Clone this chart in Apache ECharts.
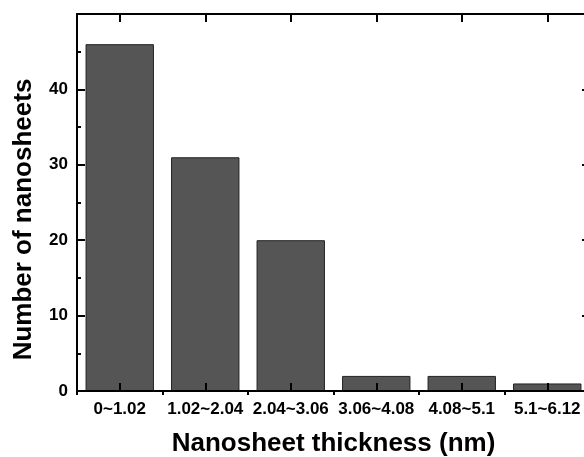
<!DOCTYPE html>
<html>
<head>
<meta charset="utf-8">
<script src="https://cdn.jsdelivr.net/npm/echarts@6/dist/echarts.min.js"></script>
<style>
html,body{margin:0;padding:0;background:#fff;}
#chart{width:584px;height:457px;}
</style>
</head>
<body>
<div id="chart"></div>
<script>
var categories = ['0~1.02', '1.02~2.04', '2.04~3.06', '3.06~4.08', '4.08~5.1', '5.1~6.12'];
var counts = [46, 31, 20, 2, 2, 1];
var yTicks = [0, 10, 20, 30, 40];

var FONT = '"Liberation Sans", Arial, sans-serif';
var lineStyle = { color: '#000', width: 2 };

var chart = echarts.init(document.getElementById('chart'), null, { renderer: 'canvas' });
chart.setOption({
  animation: false,
  backgroundColor: '#fff',
  grid: { left: 77, top: 14, width: 513, bottom: 66, containLabel: false, outerBoundsMode: 'none' },
  xAxis: [
    {
      type: 'category', data: categories, position: 'bottom', z: 10,
      name: 'Nanosheet thickness (nm)', nameLocation: 'middle', nameGap: 40,
      nameTextStyle: { fontFamily: FONT, fontWeight: 'bold', fontSize: 26, color: '#000' },
      axisLine: { show: true, lineStyle: lineStyle },
      axisTick: { show: true, inside: true, alignWithLabel: true, length: 8, lineStyle: lineStyle },
      axisLabel: { fontFamily: FONT, fontWeight: 'bold', fontSize: 17, color: '#000', margin: 10, interval: 0 },
      splitLine: { show: false }
    },
    {
      type: 'category', data: categories, position: 'top', z: 10,
      axisLine: { show: true, onZero: false, lineStyle: lineStyle },
      axisTick: { show: true, inside: true, alignWithLabel: true, length: 8, lineStyle: lineStyle },
      axisLabel: { show: false },
      splitLine: { show: false }
    },
    {
      type: 'category', data: categories, position: 'top', z: 10,
      axisLine: { show: false },
      axisTick: { show: true, inside: true, length: 4, lineStyle: lineStyle },
      axisLabel: { show: false },
      splitLine: { show: false }
    }
  ],
  yAxis: [
    {
      type: 'value', min: 0, max: 50, interval: 10, position: 'left', z: 10,
      name: 'Number of nanosheets', nameLocation: 'middle', nameGap: 40,
      nameTextStyle: { fontFamily: FONT, fontWeight: 'bold', fontSize: 26, color: '#000', padding: [0, 34, 0, 0] },
      axisLine: { show: true, lineStyle: lineStyle },
      axisTick: { show: true, inside: true, length: 8, lineStyle: lineStyle },
      minorTick: { show: true, splitNumber: 2, length: 4, lineStyle: lineStyle },
      axisLabel: {
        fontFamily: FONT, fontWeight: 'bold', fontSize: 17, color: '#000', margin: 9,
        formatter: function (v) { return yTicks.indexOf(v) >= 0 ? String(v) : ''; }
      },
      splitLine: { show: false }
    },
    {
      type: 'value', min: 0, max: 50, interval: 10, position: 'right', z: 10,
      axisLine: { show: true, lineStyle: lineStyle },
      axisTick: { show: true, inside: true, length: 8, lineStyle: lineStyle },
      minorTick: { show: true, splitNumber: 2, length: 4, lineStyle: lineStyle },
      axisLabel: { show: false },
      splitLine: { show: false }
    }
  ],
  series: [
    {
      type: 'bar', data: counts, xAxisIndex: 0, yAxisIndex: 0,
      barCategoryGap: '20%',
      itemStyle: { color: '#555555', borderColor: '#222', borderWidth: 1 }
    }
  ]
});
</script>
</body>
</html>
